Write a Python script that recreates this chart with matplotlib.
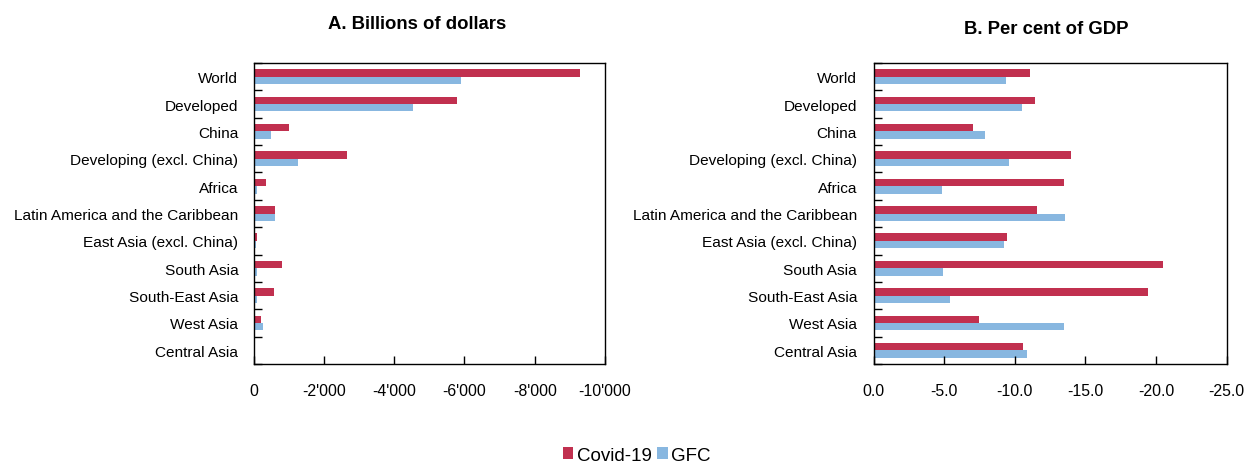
import numpy as np
import matplotlib.pyplot as plt
from matplotlib.ticker import FuncFormatter, FixedLocator

plt.rcParams['font.family'] = ['Liberation Sans', 'DejaVu Sans']

regions = ['World', 'Developed', 'China', 'Developing (excl. China)', 'Africa',
           'Latin America and the Caribbean', 'East Asia (excl. China)',
           'South Asia', 'South-East Asia', 'West Asia', 'Central Asia']

# A. billions of dollars
covid_usd = [-9290, -5780, -1010, -2670, -355, -620, -90, -810, -585, -205, -55]
gfc_usd   = [-5895, -4530, -500, -1275, -90, -610, -60, -110, -90, -260, -25]

# B. per cent of GDP
covid_gdp = [-11.1, -11.45, -7.0, -13.95, -13.5, -11.55, -9.45, -20.5, -19.4, -7.45, -10.6]
gfc_gdp   = [-9.4, -10.5, -7.9, -9.6, -4.85, -13.55, -9.2, -4.9, -5.4, -13.45, -10.85]

red = '#C1304F'
blue = '#88B7E0'

fig = plt.figure(figsize=(12.46, 4.64), dpi=100)
ax1 = fig.add_axes([0.2035, 0.2134, 0.2821, 0.6486])
ax2 = fig.add_axes([0.7012, 0.2134, 0.2833, 0.6486])

y = np.arange(len(regions))
h = 0.27

def draw(ax, cv, gf, xmax, ticks, fmt, ypad):
    ax.barh(y - h/2, cv, height=h, color=red, label='Covid-19')
    ax.barh(y + h/2, gf, height=h, color=blue, label='GFC')
    ax.set_ylim(len(regions) - 0.5, -0.5)
    ax.set_xlim(0, xmax)
    ax.set_yticks(y)
    ax.set_yticklabels(regions, fontsize=11.1)
    ax.tick_params(axis='y', length=0, pad=ypad)
    ax.yaxis.set_minor_locator(FixedLocator(np.arange(-0.5, len(regions), 1.0)))
    ax.tick_params(axis='y', which='minor', direction='in', length=6, width=1)
    ax.set_xticks(ticks)
    ax.xaxis.set_major_formatter(FuncFormatter(fmt))
    ax.tick_params(axis='x', direction='in', length=6, width=1, labelsize=11.4, pad=13.5)
    for s in ax.spines.values():
        s.set_linewidth(1)

draw(ax1, covid_usd, gfc_usd, -10000, np.arange(0, -10001, -2000),
     lambda v, p: '0' if v == 0 else '{:,}'.format(int(v)).replace(',', "'"), 11)
draw(ax2, covid_gdp, gfc_gdp, -25, np.arange(0, -25.1, -5),
     lambda v, p: '{:.1f}'.format(v), 12)

fig.text(0.3347, 0.948, 'A. Billions of dollars', ha='center', va='center',
         fontsize=13.3, fontweight='bold')
fig.text(0.840, 0.937, 'B. Per cent of GDP', ha='center', va='center',
         fontsize=13.3, fontweight='bold')

handles, labels = ax1.get_legend_handles_labels()
fig.legend(handles, labels, loc='center', bbox_to_anchor=(0.511, 0.017), ncol=2,
           frameon=False, fontsize=13.5, handlelength=0.55, handleheight=0.55,
           handletextpad=0.2, columnspacing=0.3, borderpad=0)

fig.savefig('out.png', dpi=100)
